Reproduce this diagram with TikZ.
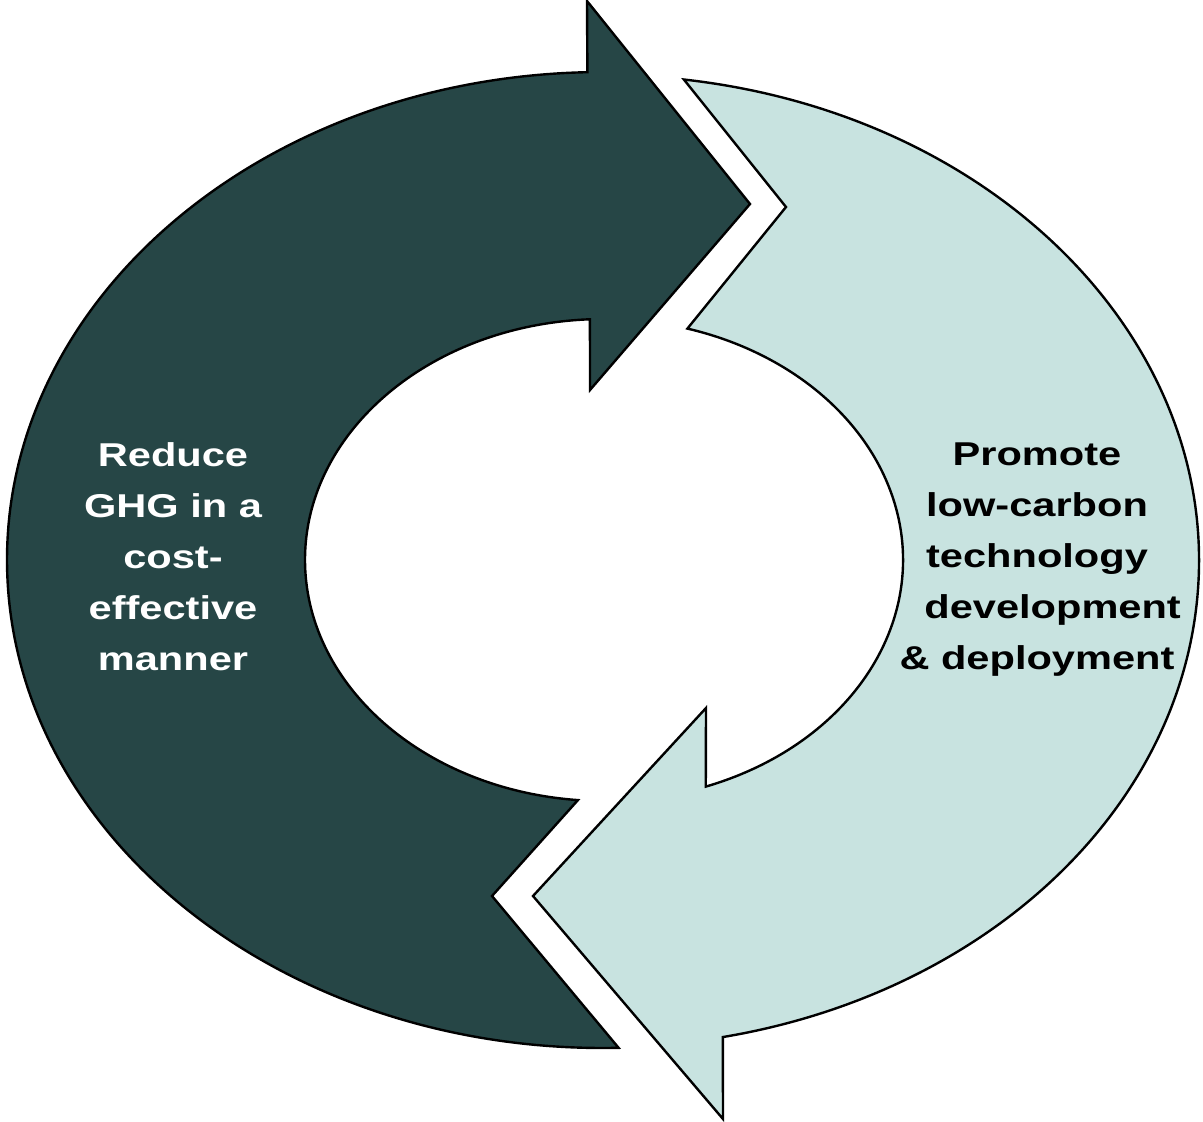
\documentclass[tikz,border=0pt]{standalone}
\usepackage{fontspec}
\setmainfont{Liberation Sans}
\usepackage{tikz}
\definecolor{ghgdark}{RGB}{38, 70, 70}
\definecolor{techlight}{RGB}{200, 227, 224}

\begin{document}
\begin{tikzpicture}[
    x=1pt, y=-1pt,
    cyclearrow/.style={draw=black, line width=2.4pt, line join=miter},
    cyclelabel/.style={font=\fontsize{33}{51}\selectfont\bfseries, align=center, xscale=1.26}
]
    \useasboundingbox (0,0) rectangle (1203,1122);

    % Left arrow: tail at the bottom, head at the top
    \filldraw[cyclearrow, fill=ghgdark]
        ([shift={(603,560)}]88.5:596 and 488)
        arc[start angle=88.5, end angle=268.5, x radius=596, y radius=488]
        -- (587,1) -- (750,204) -- (590,390)
        -- ([shift={(604,560)}]267.3:299 and 241)
        arc[start angle=267.3, end angle=95, x radius=299, y radius=241]
        -- (492,896) -- cycle;

    % Right arrow: tail at the top, head at the bottom
    \filldraw[cyclearrow, fill=techlight]
        ([shift={(603,561)}]-82.2:596 and 486)
        arc[start angle=-82.2, end angle=78.4, x radius=596, y radius=486]
        -- (723,1119) -- (533,896) -- (706,708)
        -- ([shift={(604,560)}]70.1:299 and 241)
        arc[start angle=70.1, end angle=-73.8, x radius=299, y radius=241]
        -- (786,207) -- cycle;

    % Labels
    \node[cyclelabel, text=white] (reduce) at (173,557)
        {Reduce\\GHG in a\\cost-\\effective\\manner};
    \node[cyclelabel, text=black] (promote) at (1037,560)
        {Promote\\low-carbon\\technology\\\hspace*{0.75em}development\\\& deployment};
\end{tikzpicture}
\end{document}
